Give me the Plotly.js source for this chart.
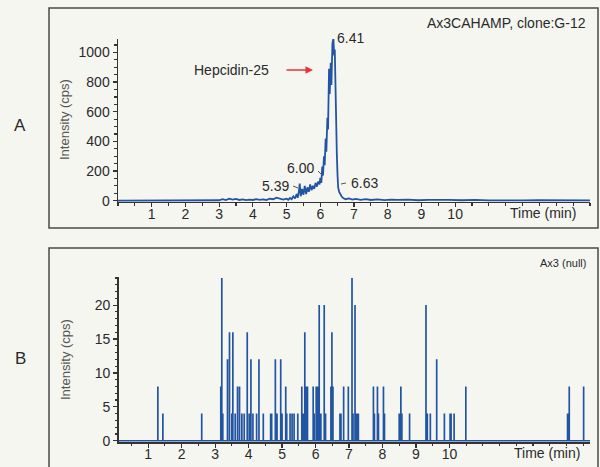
<!DOCTYPE html>
<html>
<head>
<meta charset="utf-8">
<script src="https://cdn.plot.ly/plotly-3.0.1.min.js"></script>
<style>html,body{margin:0;padding:0;background:#f6f6f1;}#chart{width:600px;height:467px;}</style>
</head>
<body>
<div id="chart"></div>
<script>
// Panel A: Ax3CAHAMP, clone:G-12 chromatogram
const timeA = [0,2.9,3.0,3.1,3.2,3.3,3.4,3.5,3.6,3.7,3.8,3.9,4.0,4.1,4.2,4.3,4.4,4.5,4.6,4.7,4.8,4.9,5.0,5.05,5.1,5.15,5.2,5.25,5.3,5.33,5.37,5.39,5.42,5.46,5.5,5.54,5.58,5.62,5.66,5.7,5.74,5.78,5.82,5.86,5.9,5.94,5.98,6.00,6.03,6.06,6.08,6.11,6.13,6.16,6.18,6.21,6.23,6.26,6.28,6.31,6.33,6.36,6.39,6.41,6.43,6.45,6.47,6.49,6.51,6.53,6.56,6.6,6.63,6.68,6.75,6.85,6.95,7.05,7.2,7.35,7.5,7.7,7.9,8.1,8.3,8.6,8.9,9.2,9.5,9.8,10.2,10.6,11.0,11.5,12.0,12.5,13.0,13.5,14.0];
const intensityA = [0,0,3,10,4,14,8,12,5,9,4,7,5,10,6,9,5,14,10,20,12,8,14,6,18,10,30,15,45,20,70,115,30,80,40,100,45,90,60,110,70,100,80,120,95,130,110,155,120,230,170,300,240,420,330,560,480,890,720,930,780,1060,1095,980,1020,700,480,320,180,90,60,40,30,18,10,15,8,12,6,10,5,9,4,8,5,7,3,6,3,5,3,5,2,4,2,3,2,3,2];

// Panel B: Ax3 (null) — spike times (min) and heights (cps)
const spikeTimesB = [1.29,1.44,2.60,3.17,3.20,3.23,3.37,3.43,3.50,3.53,3.60,3.67,3.73,3.80,3.87,3.96,4.02,4.07,4.13,4.24,4.31,4.44,4.66,4.69,4.80,4.85,4.96,5.00,5.11,5.14,5.24,5.30,5.36,5.47,5.59,5.63,5.68,5.72,5.76,5.93,5.96,6.02,6.06,6.11,6.16,6.26,6.30,6.46,6.49,6.52,6.73,6.76,6.84,6.98,7.09,7.12,7.18,7.23,7.28,7.73,7.76,7.85,7.88,8.03,8.06,8.50,8.55,8.58,8.81,9.30,9.34,9.43,9.62,9.85,10.02,10.05,10.14,10.49,13.53,13.58,14.01];
const spikeHeightsB = [8,4,4,8,24,4,12,16,4,16,4,8,8,4,4,16,4,12,4,4,12,4,4,4,12,4,12,4,8,4,4,4,4,4,8,4,16,8,8,8,4,8,8,20,4,20,4,8,16,8,4,4,8,8,24,4,20,4,4,8,4,8,4,8,4,4,8,4,4,20,4,4,12,4,4,4,4,8,4,8,8];
const rangeB = [0.12, 14.2];

const xTickValsA = [1,2,3,4,5,6,7,8,9,10];
const yTickValsA = [0,200,400,600,800,1000];
const yTickValsB = [0,5,10,15,20];

// build stick trace for B
const xB = [rangeB[0]], yB = [0];
spikeTimesB.forEach((t,i)=>{ xB.push(t,t,t); yB.push(0,spikeHeightsB[i],0); });
xB.push(rangeB[1]); yB.push(0);

const W = 600, H = 467;
const px = x => x / W;
const py = y => 1 - y / H;

const lineColor = '#2254a4';
const axisColor = '#333333';
const textColor = '#2a2a2a';
const fontFam = 'Liberation Sans, Arial, sans-serif';

const traces = [
  {x: timeA, y: intensityA, type: 'scatter', mode: 'lines', xaxis: 'x', yaxis: 'y',
   line: {color: lineColor, width: 1.8}, hoverinfo: 'skip'},
  {x: xB, y: yB, type: 'scatter', mode: 'lines', xaxis: 'x2', yaxis: 'y2',
   line: {color: lineColor, width: 1.7}, hoverinfo: 'skip'}
];

const baseX = {
  showgrid: false, zeroline: false, showline: true, linecolor: axisColor, linewidth: 1.5,
  ticks: 'outside', ticklen: 4, tickcolor: axisColor, tickwidth: 1.2,
  ticklabelstandoff: -5,
  tickfont: {family: fontFam, size: 14, color: textColor},
  tickvals: xTickValsA,
  minor: {dtick: 0.5, tick0: 0, ticks: 'outside', ticklen: 2.5, tickcolor: axisColor, showgrid: false}
};
const baseY = {
  showgrid: false, zeroline: false, showline: true, linecolor: axisColor, linewidth: 1.5,
  ticks: 'outside', ticklen: 4, tickcolor: axisColor, tickwidth: 1.2,
  tickfont: {family: fontFam, size: 14, color: textColor}
};

const layout = {
  width: W, height: H,
  margin: {l: 0, r: 0, t: 0, b: 0},
  paper_bgcolor: '#f6f6f1', plot_bgcolor: 'rgba(0,0,0,0)',
  showlegend: false,
  xaxis: Object.assign({}, baseX, {domain: [px(118), px(590)], range: [0, 14], anchor: 'y'}),
  yaxis: Object.assign({}, baseY, {domain: [py(201.9), py(39.06)], range: [-8, 1090], anchor: 'x',
          tickvals: yTickValsA,
          minor: {dtick: 50, tick0: 0, ticks: 'outside', ticklen: 2.5, tickcolor: axisColor, showgrid: false}}),
  xaxis2: Object.assign({}, baseX, {domain: [px(118.7), px(590)], range: rangeB, anchor: 'y2'}),
  yaxis2: Object.assign({}, baseY, {domain: [py(442.1), py(277.3)], range: [-0.2, 24.1], anchor: 'x2',
          tickvals: yTickValsB,
          minor: {dtick: 1, tick0: 0, ticks: 'outside', ticklen: 2.5, tickcolor: axisColor, showgrid: false}}),
  shapes: [
    {type: 'rect', xref: 'paper', yref: 'paper', x0: px(49), x1: px(598), y0: py(228), y1: py(8),
     line: {color: '#4a4a4a', width: 1.5}},
    {type: 'rect', xref: 'paper', yref: 'paper', x0: px(49), x1: px(598), y0: py(470), y1: py(248),
     line: {color: '#4a4a4a', width: 1.5}},
    {type: 'line', xref: 'paper', yref: 'paper', x0: px(318), y0: py(171), x1: px(323), y1: py(176),
     line: {color: '#555', width: 1}},
    {type: 'line', xref: 'paper', yref: 'paper', x0: px(293), y0: py(186), x1: px(298), y1: py(188),
     line: {color: '#555', width: 1}},
    {type: 'line', xref: 'paper', yref: 'paper', x0: px(341), y0: py(184), x1: px(346), y1: py(183),
     line: {color: '#555', width: 1}}
  ],
  annotations: [
    {text: 'Ax3CAHAMP, clone:G-12', xref: 'paper', yref: 'paper', x: px(588), y: py(23),
     xanchor: 'right', yanchor: 'middle', showarrow: false, font: {family: fontFam, size: 14, color: textColor}},
    {text: 'Ax3 (null)', xref: 'paper', yref: 'paper', x: px(588), y: py(263),
     xanchor: 'right', yanchor: 'middle', showarrow: false, font: {family: fontFam, size: 11, color: textColor}},
    {text: '6.41', xref: 'paper', yref: 'paper', x: px(335), y: py(38), xanchor: 'left', yanchor: 'middle',
     showarrow: false, font: {family: fontFam, size: 14, color: textColor}},
    {text: '6.00', xref: 'paper', yref: 'paper', x: px(300), y: py(168), xanchor: 'center', yanchor: 'middle',
     showarrow: false, font: {family: fontFam, size: 14, color: textColor}},
    {text: '5.39', xref: 'paper', yref: 'paper', x: px(275), y: py(186), xanchor: 'center', yanchor: 'middle',
     showarrow: false, font: {family: fontFam, size: 14, color: textColor}},
    {text: '6.63', xref: 'paper', yref: 'paper', x: px(365), y: py(183), xanchor: 'center', yanchor: 'middle',
     showarrow: false, font: {family: fontFam, size: 14, color: textColor}},
    {text: 'Hepcidin-25', xref: 'paper', yref: 'paper', x: px(231), y: py(70), xanchor: 'center', yanchor: 'middle',
     showarrow: false, font: {family: fontFam, size: 14, color: textColor}},
    {text: '', xref: 'paper', yref: 'paper', x: px(313), y: py(70), showarrow: true, ax: -28, ay: 0,
     arrowcolor: '#e8333a', arrowhead: 2, arrowsize: 1, arrowwidth: 1.5},
    {text: 'Time (min)', xref: 'paper', yref: 'paper', x: px(543), y: py(213), xanchor: 'center', yanchor: 'middle',
     showarrow: false, font: {family: fontFam, size: 14, color: textColor}},
    {text: 'Time (min)', xref: 'paper', yref: 'paper', x: px(547), y: py(453), xanchor: 'center', yanchor: 'middle',
     showarrow: false, font: {family: fontFam, size: 14, color: textColor}},
    {text: 'Intensity (cps)', xref: 'paper', yref: 'paper', x: px(65), y: py(120), xanchor: 'center', yanchor: 'middle',
     textangle: -90, showarrow: false, font: {family: fontFam, size: 13, color: '#555'}},
    {text: 'Intensity (cps)', xref: 'paper', yref: 'paper', x: px(65), y: py(360), xanchor: 'center', yanchor: 'middle',
     textangle: -90, showarrow: false, font: {family: fontFam, size: 13, color: '#555'}},
    {text: 'A', xref: 'paper', yref: 'paper', x: px(20), y: py(125), xanchor: 'center', yanchor: 'middle',
     showarrow: false, font: {family: fontFam, size: 17, color: textColor}},
    {text: 'B', xref: 'paper', yref: 'paper', x: px(20), y: py(358), xanchor: 'center', yanchor: 'middle',
     showarrow: false, font: {family: fontFam, size: 17, color: textColor}}
  ]
};

Plotly.newPlot('chart', traces, layout, {staticPlot: true, displayModeBar: false});
</script>
</body>
</html>
